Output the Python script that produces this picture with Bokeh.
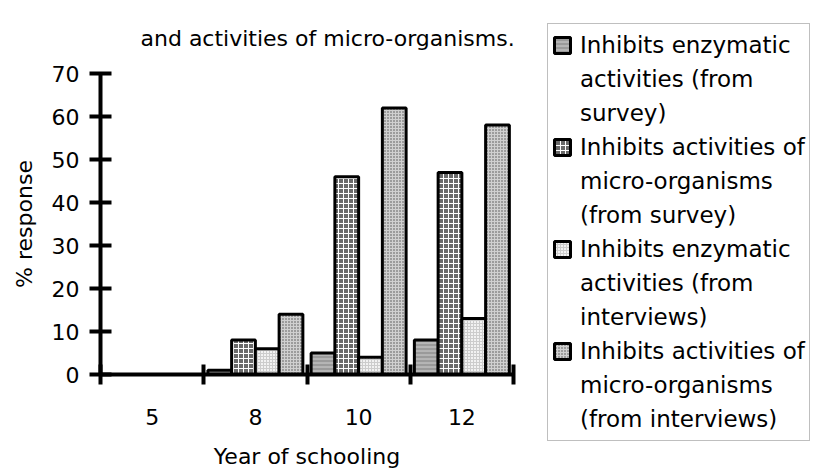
from bokeh.plotting import figure
from bokeh.models import (ColumnDataSource, Range1d, FixedTicker, Legend, LegendItem, Title)
from bokeh.transform import dodge
from bokeh.embed import file_html
from bokeh.resources import INLINE

# ---- data ----
years = ["5", "8", "10", "12"]
enzymatic_survey = [0, 1, 5, 8]
micro_survey = [0, 8, 46, 47]
enzymatic_interviews = [0, 6, 4, 13]
micro_interviews = [0, 14, 62, 58]
y_ticks = [0, 10, 20, 30, 40, 50, 60, 70]
title_text = "and activities of micro-organisms."
legend_lines = [
    ["Inhibits enzymatic", "activities (from", "survey)"],
    ["Inhibits activities of", "micro-organisms", "(from survey)"],
    ["Inhibits enzymatic", "activities (from", "interviews)"],
    ["Inhibits activities of", "micro-organisms", "(from interviews)"],
]

FONT = "DejaVu Sans"

# category slots: centre of slot i is i + 0.5, slot edges at 0..n
centers = [i + 0.5 for i in range(len(years))]
edges = list(range(len(years) + 1))

source = ColumnDataSource(dict(x=centers, s1=enzymatic_survey, s2=micro_survey,
                               s3=enzymatic_interviews, s4=micro_interviews))

p = figure(x_range=Range1d(0, len(years)), y_range=Range1d(0, 70),
           frame_width=413, frame_height=301,
           min_border_left=100, min_border_right=300, min_border_top=72, min_border_bottom=100,
           toolbar_location=None, output_backend="svg",
           background_fill_color="white", border_fill_color="white")
p.outline_line_color = None
p.grid.visible = False

styles = [
    dict(fill_color="#9a9a9a", hatch_pattern="horizontal_line", hatch_color="#cfcfcf", hatch_scale=4, hatch_weight=1),
    dict(fill_color="#6a6a6a", hatch_pattern="cross", hatch_color="#ffffff", hatch_scale=5, hatch_weight=1),
    dict(fill_color="#f2f2f2", hatch_pattern="cross", hatch_color="#cccccc", hatch_scale=3, hatch_weight=1),
    dict(fill_color="#9c9c9c", hatch_pattern="cross", hatch_color="#d0d0d0", hatch_scale=3, hatch_weight=1),
]
offsets = [-0.345, -0.115, 0.115, 0.345]
renderers = []
for i, col in enumerate(["s1", "s2", "s3", "s4"]):
    r = p.vbar(x=dodge("x", offsets[i]), top=col, width=0.23,
               source=source, line_color="black", line_width=3, **styles[i])
    renderers.append(r)

# blank renderer for text-only legend rows
blank = p.vbar(x=[], top=[], width=0.1, fill_alpha=0, line_alpha=0)

# ---- y axis ----
ya = p.yaxis[0]
ya.ticker = FixedTicker(ticks=y_ticks)
ya.axis_line_width = 4
ya.axis_line_color = "black"
ya.major_tick_line_width = 4
ya.major_tick_in = 11
ya.major_tick_out = 11
ya.minor_tick_line_color = None
ya.major_label_standoff = 10
ya.major_label_text_font = FONT
ya.major_label_text_font_size = "22px"
ya.major_label_text_color = "black"
ya.axis_label = "% response"
ya.axis_label_text_font = FONT
ya.axis_label_text_font_size = "22px"
ya.axis_label_text_font_style = "normal"
ya.axis_label_text_color = "black"
ya.axis_label_standoff = 12

# ---- x axis: labels at slot centres, ticks at slot edges ----
xa = p.xaxis[0]
xa.ticker = FixedTicker(ticks=centers, minor_ticks=edges)
xa.major_label_overrides = {c: y for c, y in zip(centers, years)}
xa.axis_line_width = 4
xa.axis_line_color = "black"
xa.major_tick_line_color = None
xa.major_tick_in = 0
xa.major_tick_out = 10
xa.minor_tick_line_color = "black"
xa.minor_tick_line_width = 4
xa.minor_tick_in = 10
xa.minor_tick_out = 10
xa.major_label_standoff = 24
xa.major_label_text_font = FONT
xa.major_label_text_font_size = "22px"
xa.major_label_text_color = "black"
xa.axis_label = "Year of schooling"
xa.axis_label_text_font = FONT
xa.axis_label_text_font_size = "22px"
xa.axis_label_text_font_style = "normal"
xa.axis_label_text_color = "black"
xa.axis_label_standoff = 16

# ---- title (kept clear of the legend box) ----
p.add_layout(Title(text=title_text, align="left", offset=40, standoff=46,
                   text_font=FONT, text_font_size="22px", text_font_style="normal",
                   text_color="black"), "above")

# ---- legend ----
items = []
for r, lines in zip(renderers, legend_lines):
    items.append(LegendItem(label=lines[0], renderers=[r]))
    for ln in lines[1:]:
        items.append(LegendItem(label=ln, renderers=[blank]))

legend = Legend(items=items, location=(34, -67), padding=4, spacing=0, margin=0,
                label_height=34, glyph_width=20, glyph_height=20, label_standoff=8,
                border_line_color="#808080", border_line_width=1,
                background_fill_color="white", background_fill_alpha=1,
                label_text_font=FONT, label_text_font_size="23px", label_text_color="black")
p.add_layout(legend, "right")

open("out.html", "w").write(file_html(p, INLINE))
